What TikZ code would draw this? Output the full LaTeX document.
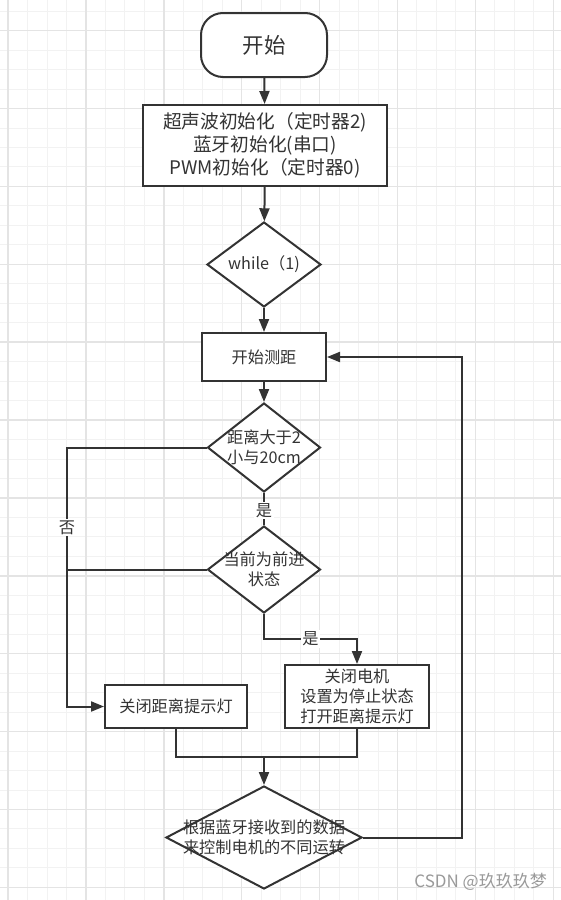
\documentclass[tikz,border=0pt]{standalone}
\usepackage{fontspec}
\setmainfont{Noto Sans CJK SC}
\usetikzlibrary{shapes.geometric,arrows.meta}
\definecolor{linec}{HTML}{333333}
\definecolor{textc}{HTML}{333333}
\definecolor{gridminor}{HTML}{F2F2F2}
\definecolor{gridmajor}{HTML}{E4E4E4}
\definecolor{wmc}{HTML}{9A9A9A}
\newcommand{\fsBig}{\fontsize{21.5pt}{25pt}\selectfont}
\newcommand{\fsInit}{\fontsize{18.7pt}{23pt}\selectfont}
\newcommand{\fsNorm}{\fontsize{16.2pt}{20pt}\selectfont}
\newcommand{\fsWm}{\fontsize{17pt}{20pt}\selectfont}
\begin{document}
\begin{tikzpicture}[x=1pt,y=-1pt,
  line/.style={draw=linec, line width=2pt},
  arr/.style={line, -{Triangle[length=13pt,width=10pt]}},
  box/.style={rectangle, draw=linec, line width=2pt, fill=white, inner sep=0pt, align=center, text=textc, font=\fsNorm},
  term/.style={box, rounded corners=22pt, font=\fsBig},
  dia/.style={diamond, draw=linec, line width=2pt, fill=white, inner sep=0pt},
  dlab/.style={text=textc, align=center, font=\fsNorm, inner sep=0pt},
  lbl/.style={fill=white, inner sep=1.5pt, text=textc, font=\fsNorm},
  gmin/.style={draw=gridminor, line width=1pt},
  gmaj/.style={draw=gridmajor, line width=1.4pt}]
\useasboundingbox (0,0) rectangle (561,900);
\fill[white] (0,0) rectangle (561,900);
% grid
\foreach \k in {0,...,28} { \draw[gmin] ({8.1+19.47*\k},0) -- ({8.1+19.47*\k},900); }
\foreach \k in {0,...,45} { \draw[gmin] (0,{11.2+19.47*\k}) -- (561,{11.2+19.47*\k}); }
\foreach \k in {0,4,...,28} { \draw[gmaj] ({8.1+19.47*\k},0) -- ({8.1+19.47*\k},900); }
\foreach \k in {1,5,...,45} { \draw[gmaj] (0,{11.2+19.47*\k}) -- (561,{11.2+19.47*\k}); }

% nodes
\node[term, minimum width=126pt, minimum height=64pt] (start) at (264,45) {开始};
\node[box, minimum width=244pt, minimum height=81pt, font=\fsInit] (init) at (265,145.5)
  {超声波初始化（定时器2)\\蓝牙初始化(串口)\\PWM初始化（定时器0)};
\node[dia, minimum width=114pt, minimum height=85pt,
  label={[dlab]center:while（1)}] (wh) at (264,264.5) {};
\node[box, minimum width=124pt, minimum height=48pt] (meas) at (264,357) {开始测距};
\node[dia, minimum width=113pt, minimum height=89pt,
  label={[dlab]center:距离大于2\\小与20cm}] (d2) at (264,447.5) {};
\node[dia, minimum width=113pt, minimum height=87pt,
  label={[dlab]center:当前为前进\\状态}] (d3) at (264,569.5) {};
\node[box, minimum width=144pt, minimum height=63pt] (b3) at (357,696.5)
  {关闭电机\\设置为停止状态\\打开距离提示灯};
\node[box, minimum width=142pt, minimum height=43pt] (b4) at (176,706.5) {关闭距离提示灯};
\node[dia, minimum width=196pt, minimum height=103pt,
  label={[dlab]center:根据蓝牙接收到的数据\\来控制电机的不同运转}] (d4) at (264,837.5) {};
\node[anchor=east, text=wmc, font=\fsWm, inner sep=0pt] (wm) at (547,882) {CSDN @玖玖玖梦};

% helper coordinates
\coordinate (L) at (67,447.5);
\coordinate (M) at (264,639);
\coordinate (J) at (264,757);
\coordinate (R) at (462,357);

% connectors
\draw[arr] (start) -- (init);
\draw[arr] (init) -- (wh);
\draw[arr] (wh) -- (meas);
\draw[arr] (meas) -- (d2);
\draw[line] (d2.south) -- node[lbl, pos=0.55]{是} (d3.north);
\draw[arr] (d2.west) -- (L) -- node[lbl, pos=0.31]{否} (L |- b4.west) -- (b4.west);
\draw[line] (d3.west) -- (L |- d3.west);
\draw[arr] (d3.south) -- (M) -- node[lbl]{是} (b3.north |- M) -- (b3.north);
\draw[line] (b4.south) -- (b4.south |- J) -- (b3.south |- J) -- (b3.south);
\draw[arr] (J) -- (d4.north);
\draw[arr] (d4.east) -- (R |- d4.east) -- (R) -- (meas.east);
\end{tikzpicture}
\end{document}
